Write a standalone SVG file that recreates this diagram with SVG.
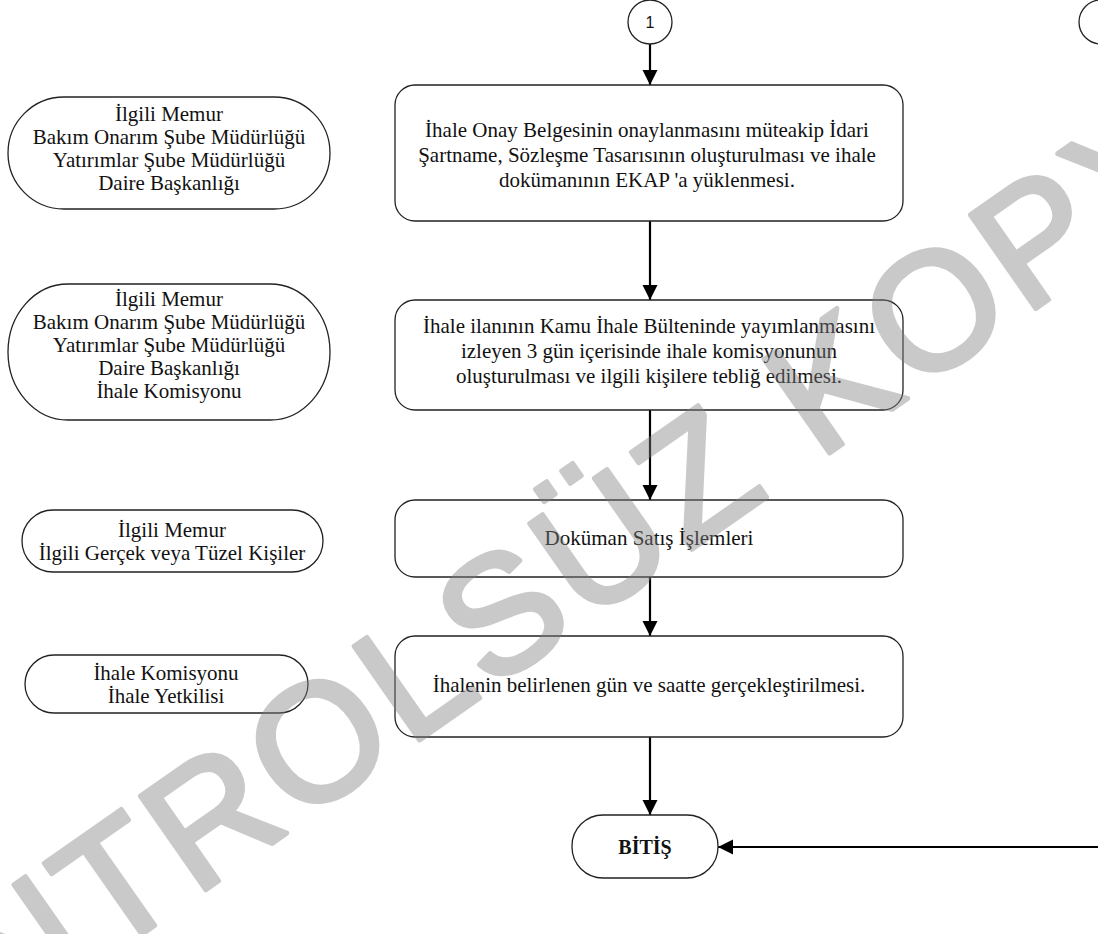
<svg xmlns="http://www.w3.org/2000/svg" width="1098" height="934" viewBox="0 0 1098 934">
<style>
.box{fill:#fff;stroke:#222;stroke-width:1.3}
.t{font-family:"Liberation Serif","Times New Roman",serif;font-size:21px;fill:#111;text-anchor:middle}
.b{font-weight:bold;font-size:20px}
.c{font-family:"Liberation Sans",Arial,sans-serif;font-size:16px;fill:#111;text-anchor:middle}
.ln{stroke:#000;stroke-width:2.2;fill:none}
.wm{font-family:"Liberation Sans",Arial,sans-serif;font-size:166px;letter-spacing:6px;fill:#808080;stroke:#808080;stroke-width:5;stroke-linejoin:round;text-anchor:middle}
</style>
<defs>
<marker id="ah" viewBox="0 0 10 10" refX="10" refY="5" markerWidth="7" markerHeight="7" markerUnits="strokeWidth" orient="auto">
<path d="M0,0 L10,5 L0,10 Z" fill="#000"/>
</marker>
</defs>
<rect width="1098" height="934" fill="#fff"/>
<g id="connectors">
<line class="ln" x1="650" y1="44" x2="650" y2="85" marker-end="url(#ah)"/>
<line class="ln" x1="650" y1="221" x2="650" y2="300" marker-end="url(#ah)"/>
<line class="ln" x1="650" y1="410" x2="650" y2="500" marker-end="url(#ah)"/>
<line class="ln" x1="650" y1="577" x2="650" y2="636" marker-end="url(#ah)"/>
<line class="ln" x1="650" y1="737" x2="650" y2="815" marker-end="url(#ah)"/>
<line class="ln" x1="1098" y1="847" x2="718" y2="847" marker-end="url(#ah)"/>
</g>
<g id="conn1">
<circle class="box" cx="650" cy="22" r="22"/>
<text class="c" x="650" y="28">1</text>
</g>
<g id="conn2">
<circle class="box" cx="1101" cy="22" r="22"/>
</g>
<g id="resp1">
<rect class="box" x="8" y="97" width="322" height="112" rx="56" ry="56"/>
<text class="t" x="169" y="121">İlgili Memur</text>
<text class="t" x="169" y="144">Bakım Onarım Şube Müdürlüğü</text>
<text class="t" x="169" y="167">Yatırımlar Şube Müdürlüğü</text>
<text class="t" x="169" y="190">Daire Başkanlığı</text>
</g>
<g id="resp2">
<rect class="box" x="8" y="284" width="322" height="136" rx="60" ry="68"/>
<text class="t" x="169" y="306">İlgili Memur</text>
<text class="t" x="169" y="329">Bakım Onarım Şube Müdürlüğü</text>
<text class="t" x="169" y="352">Yatırımlar Şube Müdürlüğü</text>
<text class="t" x="169" y="375">Daire Başkanlığı</text>
<text class="t" x="169" y="398">İhale Komisyonu</text>
</g>
<g id="resp3">
<rect class="box" x="22" y="510" width="301" height="62" rx="31" ry="31"/>
<text class="t" x="172" y="537">İlgili Memur</text>
<text class="t" x="172" y="560">İlgili Gerçek veya Tüzel Kişiler</text>
</g>
<g id="resp4">
<rect class="box" x="25" y="655" width="283" height="58" rx="29" ry="29"/>
<text class="t" x="166" y="680">İhale Komisyonu</text>
<text class="t" x="166" y="703">İhale Yetkilisi</text>
</g>
<g id="step1">
<rect class="box" x="395" y="85" width="508" height="136" rx="20"/>
<text class="t" x="647" y="137">İhale Onay Belgesinin onaylanmasını müteakip İdari</text>
<text class="t" x="647" y="162">Şartname, Sözleşme Tasarısının oluşturulması ve ihale</text>
<text class="t" x="647" y="187">dokümanının EKAP 'a yüklenmesi.</text>
</g>
<g id="step2">
<rect class="box" x="395" y="300" width="508" height="110" rx="20"/>
<text class="t" x="649" y="333">İhale ilanının Kamu İhale Bülteninde yayımlanmasını</text>
<text class="t" x="649" y="358">izleyen 3 gün içerisinde ihale komisyonunun</text>
<text class="t" x="649" y="383">oluşturulması ve ilgili kişilere tebliğ edilmesi.</text>
</g>
<g id="step3">
<rect class="box" x="395" y="500" width="508" height="77" rx="20"/>
<text class="t" x="649" y="545">Doküman Satış İşlemleri</text>
</g>
<g id="step4">
<rect class="box" x="395" y="636" width="508" height="101" rx="20"/>
<text class="t" x="649" y="692">İhalenin belirlenen gün ve saatte gerçekleştirilmesi.</text>
</g>
<g id="end">
<rect class="box" x="572" y="815" width="146" height="63" rx="31" ry="31"/>
<text class="t b" x="645" y="854">BİTİŞ</text>
</g>
<g id="watermark" opacity="0.42">
<text class="wm" transform="translate(515 600) rotate(-35)" x="0" y="60">KONTROLSÜZ KOPYA</text>
</g>
</svg>
